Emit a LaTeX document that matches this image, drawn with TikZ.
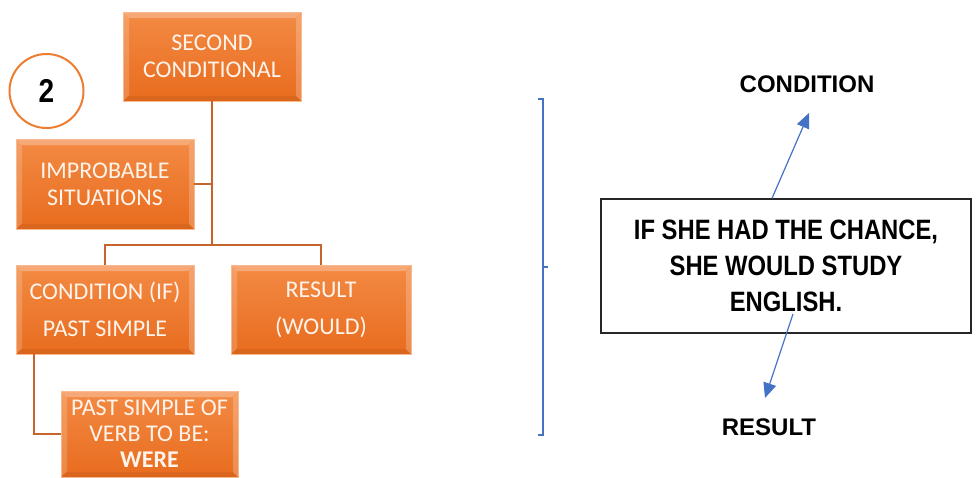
\documentclass[tikz,border=0pt]{standalone}
\usepackage{fontspec}
\setmainfont{Carlito}
\newfontfamily\arialfont{Liberation Sans}
\newfontfamily\arialnarrow[FakeStretch=0.85]{Liberation Sans}
\usetikzlibrary{arrows.meta}
\definecolor{otop}{HTML}{F38A44}
\definecolor{obot}{HTML}{E86C1E}
\definecolor{oedge}{HTML}{F7B98F}
\definecolor{oline}{HTML}{C5652B}
\definecolor{ocirc}{HTML}{ED7D31}
\definecolor{bline}{HTML}{4472C4}
\definecolor{otext}{HTML}{FFF4EC}
\tikzset{
  obox/.style={rectangle, top color=otop, bottom color=obot, draw=oedge, line width=0.8pt,
    text=otext, font=\fontsize{24}{27}\selectfont, align=center, inner sep=0pt,
    path picture={
      \fill[white,opacity=0.28] (path picture bounding box.north west) -- (path picture bounding box.north east)
        -- ([shift={(-6pt,-6pt)}]path picture bounding box.north east)
        -- ([shift={(6pt,-6pt)}]path picture bounding box.north west) -- cycle;
      \fill[white,opacity=0.18] (path picture bounding box.north west) -- ([shift={(6pt,-6pt)}]path picture bounding box.north west)
        -- ([shift={(6pt,6pt)}]path picture bounding box.south west) -- (path picture bounding box.south west) -- cycle;
      \fill[white,opacity=0.22] (path picture bounding box.north east) -- ([shift={(-5pt,-6pt)}]path picture bounding box.north east)
        -- ([shift={(-5pt,5pt)}]path picture bounding box.south east) -- (path picture bounding box.south east) -- cycle;
      \fill[black,opacity=0.06] (path picture bounding box.south west) -- (path picture bounding box.south east)
        -- ([shift={(-5pt,5pt)}]path picture bounding box.south east) -- ([shift={(6pt,5pt)}]path picture bounding box.south west) -- cycle;
    }},
  oconn/.style={draw=oline, line width=2pt},
  bconn/.style={draw=bline, line width=1.2pt},
  barrow/.style={bconn, -{Triangle[length=15pt,width=13pt]}},
  blabel/.style={font=\arialfont\bfseries\fontsize{24}{28}\selectfont, text=black},
}
\begin{document}
\begin{tikzpicture}[x=1pt,y=-1pt]
\useasboundingbox[fill=white] (0,0) rectangle (979,477);
% left tree
\node[circle, draw=ocirc, line width=2pt, fill=white, minimum size=74pt, inner sep=0pt,
      font=\arialnarrow\bfseries\fontsize{33}{34}\selectfont] (num) at (46.5,91) {2};
\node[obox, minimum width=178pt, minimum height=89pt] (sc) at (212,56.5) {SECOND\\CONDITIONAL};
\node[obox, minimum width=178pt, minimum height=90pt] (imp) at (105,184) {IMPROBABLE\\SITUATIONS};
\node[obox, minimum width=178pt, minimum height=89pt] (cond) at (105,309.5) {CONDITION (IF)\\[10pt]PAST SIMPLE};
\node[obox, minimum width=180pt, minimum height=89pt] (res) at (321,309.5) {RESULT\\[10pt](WOULD)};
\node[obox, minimum width=177pt, minimum height=86pt, font=\fontsize{24}{26}\selectfont] (past) at (149.5,434)
   {PAST SIMPLE OF\\VERB TO BE:\\\textbf{WERE}};
\coordinate (j) at (212,245);
\draw[oconn] (sc.south) -- (j);
\draw[oconn] (j) -| (cond.north);
\draw[oconn] (j) -| (res.north);
\draw[oconn] (imp.east) -- (imp.east -| sc.south);
\draw[oconn] ([xshift=-71pt]cond.south) |- (past.west);
% right side
\draw[bconn] (538,99) -- (543,99) -- (543,435) -- (538,435);
\draw[bconn] (543,267) -- (548,267);
\node[draw=black!85, line width=1.3pt, minimum width=370pt, minimum height=134pt,
      font=\arialnarrow\bfseries\fontsize{28}{36}\selectfont, align=center, inner sep=0pt]
      (ex) at (786,266) {IF SHE HAD THE CHANCE,\\SHE WOULD STUDY\\ENGLISH.};
\node[blabel] (lc) at (807,84) {CONDITION};
\node[blabel] (lr) at (769,427) {RESULT};
\coordinate (a1) at (809,113);
\coordinate (a2) at (765,398);
\draw[barrow] ([xshift=-14pt]ex.north) -- (a1);
\draw[barrow] (793,314) -- (a2);
\end{tikzpicture}
\end{document}
